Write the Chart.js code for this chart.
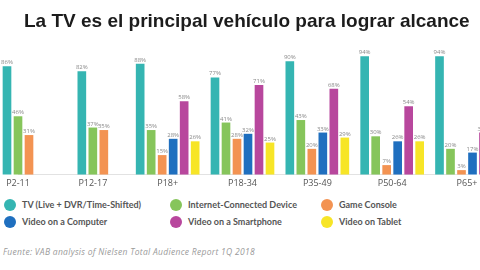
<!DOCTYPE html>
<html>
<head>
<meta charset="utf-8">
<script src="https://cdn.jsdelivr.net/npm/chart.js@4/dist/chart.umd.min.js"></script>
<style>
    body { margin: 0; background: #fff; width: 480px; height: 270px; overflow: hidden; position: relative; }
    #title { position: absolute; left: 24px; top: 10px; font-family: "Liberation Sans", sans-serif; font-weight: bold; font-size: 19px; color: #1c1c1c; white-space: nowrap; }
    #wrap { position: absolute; left: 0; top: 0; width: 480px; height: 193px; }
    .legend { position: absolute; left: 0; top: 198px; width: 480px; font-family: Lato, sans-serif; font-weight: 700; font-size: 9px; color: #555; }
    .item { position: absolute; white-space: nowrap; line-height: 12px; }
    .dot { display: inline-block; width: 12px; height: 12px; border-radius: 50%; vertical-align: middle; margin-right: 6px; }
    .item span { vertical-align: middle; }
    #source { position: absolute; left: 3px; top: 246px; font-family: "Open Sans", sans-serif; font-style: italic; font-size: 8.5px; letter-spacing: 0.3px; color: #9a9a9a; white-space: nowrap; }
</style>
</head>
<body>
<div id="wrap"><canvas id="reach" width="480" height="193"></canvas></div>
<div id="title">La TV es el principal vehículo para lograr alcance</div>
<div class="legend" id="legend"></div>
<div id="source">Fuente: VAB analysis of Nielsen Total Audience Report 1Q 2018</div>
<script>
const ageGroups = ["P2-11", "P12-17", "P18+", "P18-34", "P35-49", "P50-64", "P65+"];

// reach % per device (null = not measured for that group)
const tvLive = [86, 82, 88, 77, 90, 94, 94];
const internetDevice = [46, 37, 35, 41, 43, 30, 20];
const gameConsole = [31, 35, 15, 28, 20, 7, 3];
const videoComputer = [null, null, 28, 32, 33, 26, 17];
const videoSmartphone = [null, null, 58, 71, 68, 54, 33];
const videoTablet = [null, null, 26, 25, 29, 26, 27];

const seriesNames = ["TV (Live + DVR/Time-Shifted)", "Internet-Connected Device", "Game Console",
    "Video on a Computer", "Video on a Smartphone", "Video on Tablet"];
const seriesColors = ["#35b5b2", "#86c55b", "#f39352", "#1f6fbf", "#b8479d", "#f7e527"];
const seriesData = [tvLive, internetDevice, gameConsole, videoComputer, videoSmartphone, videoTablet];

// small % labels over each bar
const valueLabels = {
    id: "valueLabels",
    afterDatasetsDraw(chart) {
        const ctx = chart.ctx;
        ctx.save();
        ctx.font = "6px 'Open Sans', sans-serif";
        ctx.fillStyle = "#8a8a8a";
        ctx.textAlign = "center";
        ctx.textBaseline = "bottom";
        chart.data.datasets.forEach((ds, i) => {
            chart.getDatasetMeta(i).data.forEach((bar, j) => {
                const v = ds.data[j];
                if (v === null || v === undefined) return;
                ctx.fillText(v + "%", bar.x, bar.y - 1);
            });
        });
        ctx.restore();
    }
};

const chart = new Chart(document.getElementById("reach"), {
    type: "bar",
    data: {
        labels: ageGroups,
        datasets: seriesData.map((d, i) => ({
            label: seriesNames[i],
            data: d,
            backgroundColor: seriesColors[i],
            barThickness: 11,
            maxBarThickness: 8,
            skipNull: true,
            clip: false
        }))
    },
    options: {
        responsive: false,
        animation: false,
        layout: { padding: { left: 18, right: 13, top: 49, bottom: 0 } },
        plugins: {
            legend: { display: false },
            tooltip: { enabled: false }
        },
        scales: {
            x: {
                offset: false,
                grid: { display: false, drawTicks: false },
                border: { display: true, color: "#e2e2e2" },
                ticks: { color: "#555", padding: 4, maxRotation: 0, font: { family: "'Open Sans', sans-serif", size: 9 } },
                afterFit: (scale) => { scale.paddingLeft = 0; scale.paddingRight = 0; }
            },
            y: { display: false, min: 0, max: 100 }
        }
    },
    plugins: [valueLabels]
});

// three-column legend under the chart
const legendBox = document.getElementById("legend");
const colLeft = [4, 170, 321];
chart.data.datasets.forEach((ds, i) => {
    const item = document.createElement("div");
    item.className = "item";
    item.style.left = colLeft[i % 3] + "px";
    item.style.top = (Math.floor(i / 3) * 17) + "px";
    item.innerHTML = `<i class="dot" style="background:${ds.backgroundColor}"></i><span>${ds.label}</span>`;
    legendBox.appendChild(item);
});
</script>
</body>
</html>
